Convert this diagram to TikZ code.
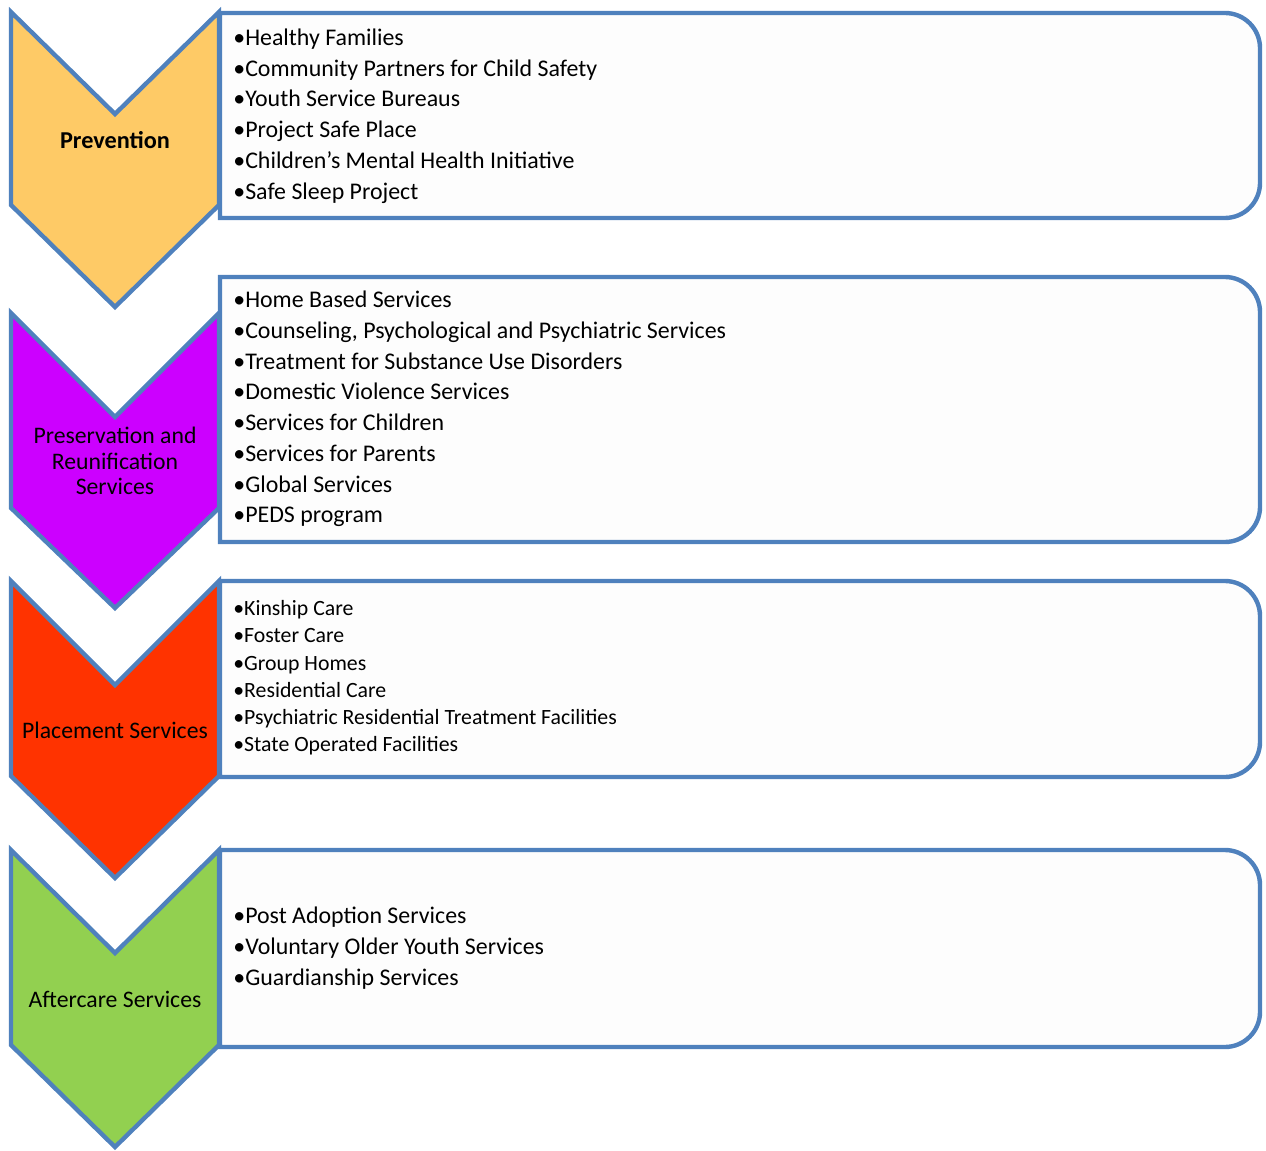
\documentclass[tikz,border=0pt]{standalone}
\usepackage{fontspec}
\setmainfont{Carlito}
\definecolor{lineblue}{RGB}{79,129,189}
\definecolor{boxwhite}{RGB}{253,253,253}
\definecolor{prevyellow}{RGB}{254,202,102}
\definecolor{prespurple}{RGB}{204,0,255}
\definecolor{placered}{RGB}{255,51,0}
\definecolor{aftergreen}{RGB}{146,208,80}
\tikzset{outline/.style={draw=lineblue, line width=2.5pt, line join=miter},
 stage/.style={align=center, inner sep=0pt, font=\fontsize{13.5}{14.7}\selectfont},
 itemlist/.style={anchor=west, align=left, inner sep=0pt, font=\fontsize{13.6}{17.5}\selectfont},
 smalllist/.style={itemlist, font=\fontsize{12.4}{15.5}\selectfont},
 }

\begin{document}
\begin{tikzpicture}[x=0.02cm, y=-0.02cm]
        \useasboundingbox (0,0) rectangle (1266,1151);
        % boxes
        \draw[outline, fill=boxwhite] (220,218) -- (220,13) [rounded corners=20pt] -- (1260,13) -- (1260,218) [sharp corners] -- cycle;
        \draw[outline, fill=boxwhite] (220,542) -- (220,277) [rounded corners=20pt] -- (1260,277) -- (1260,542) [sharp corners] -- cycle;
        \draw[outline, fill=boxwhite] (220,777) -- (220,581) [rounded corners=20pt] -- (1260,581) -- (1260,777) [sharp corners] -- cycle;
        \draw[outline, fill=boxwhite] (220,1047) -- (220,850) [rounded corners=20pt] -- (1260,850) -- (1260,1047) [sharp corners] -- cycle;
        % chevrons
        \draw[outline, fill=prevyellow] (11,12) -- (115,114) -- (219,12) -- (219,205) -- (115,307) -- (11,205) -- cycle;
        \draw[outline, fill=prespurple] (11,313) -- (115,417) -- (219,313) -- (219,508) -- (115,608) -- (11,508) -- cycle;
        \draw[outline, fill=placered] (11,581) -- (115,685) -- (219,581) -- (219,776) -- (115,878) -- (11,776) -- cycle;
        \draw[outline, fill=aftergreen] (11,850) -- (115,953) -- (219,850) -- (219,1045) -- (115,1147) -- (11,1045) -- cycle;
        \node[stage, font=\fontsize{13.8}{14.7}\selectfont\bfseries] (prev) at (115,140) {Prevention};
        \node[stage] (pres) at (115,461) {Preservation and\\Reunification\\Services};
        \node[stage] (place) at (115,730) {Placement Services};
        \node[stage] (after) at (115,999) {Aftercare Services};
        % lists
        \node[itemlist] (prevlist) at (233,116) {•Healthy Families\\•Community Partners for Child Safety\\•Youth Service Bureaus\\•Project Safe Place\\•Children’s Mental Health Initiative\\•Safe Sleep Project};
        \node[itemlist] (preslist) at (233,409) {•Home Based Services\\•Counseling, Psychological and Psychiatric Services\\•Treatment for Substance Use Disorders\\•Domestic Violence Services\\•Services for Children\\•Services for Parents\\•Global Services\\•PEDS program};
        \node[smalllist] (placelist) at (233,678) {•Kinship Care\\•Foster Care\\•Group Homes\\•Residential Care\\•Psychiatric Residential Treatment Facilities\\•State Operated Facilities};
        \node[itemlist] (afterlist) at (233,948) {•Post Adoption Services\\•Voluntary Older Youth Services\\•Guardianship Services};
    \end{tikzpicture}
\end{document}
